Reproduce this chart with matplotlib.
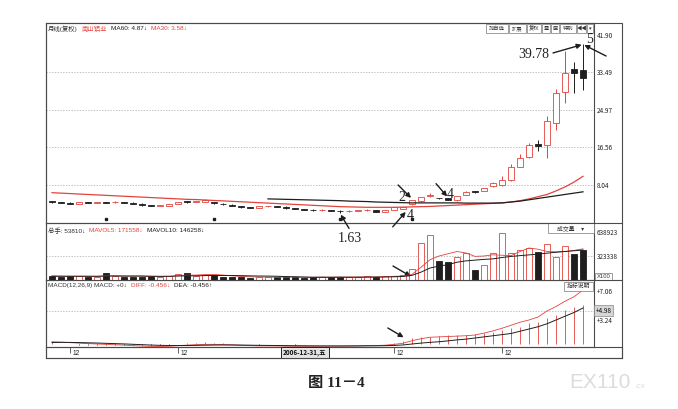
import matplotlib.pyplot as plt
from matplotlib.patches import Rectangle
from matplotlib.lines import Line2D
import numpy as np

plt.rcParams['font.family'] = ['Noto Sans CJK SC', 'DejaVu Sans']

W, H = 678, 409
RED = '#e2433c'
BLK = '#1e1e1e'
FRAME = '#4a4a4a'
GRID = '#a8a8a8'
SERIF = ['Liberation Serif', 'DejaVu Serif']
SANS = ['Liberation Sans', 'Noto Sans CJK SC', 'DejaVu Sans']

# monthly bars, 2002-10 .. 2007-09
opens = [4.4, 4.1, 4.0, 3.8, 4.1, 4.0, 4.1, 4.1, 4.2, 4.0,
         3.8, 3.5, 3.3, 3.4, 3.8, 4.2, 4.2, 4.3, 4.2, 3.8,
         3.6, 3.2, 3.0, 2.9, 3.2, 3.2, 3.1, 2.8, 2.6, 2.5,
         2.3, 2.3, 2.1, 2.1, 2.2, 2.3, 2.3, 2.0, 2.4, 2.7,
         3.75, 4.4, 5.5, 5.0, 5.0, 4.6, 5.8, 6.5, 6.7, 7.7,
         8.0, 9.2, 12.2, 14.4, 17.2, 17.1, 22.1, 29.1, 34.3, 33.9]
highs = [4.5, 4.2, 4.1, 4.3, 4.2, 4.3, 4.2, 4.4, 4.3, 4.1,
         3.9, 3.6, 3.5, 3.8, 4.3, 4.4, 4.4, 4.8, 4.3, 3.9,
         3.7, 3.3, 3.1, 3.3, 3.4, 3.3, 3.2, 2.9, 2.7, 2.6,
         2.6, 2.4, 2.4, 2.3, 2.4, 2.6, 2.4, 2.4, 3.1, 3.1,
         4.7, 5.4, 6.2, 5.2, 5.1, 5.6, 6.6, 6.7, 7.4, 8.8,
         10.0, 12.8, 15.0, 17.6, 18.3, 23.6, 29.7, 38.2, 35.9, 39.78]
lows = [4.0, 3.9, 3.7, 3.7, 3.9, 3.9, 3.9, 4.0, 3.9, 3.7,
        3.4, 3.2, 3.2, 3.3, 3.7, 4.0, 4.1, 4.2, 3.8, 3.6,
        3.2, 2.9, 2.8, 2.8, 3.1, 3.0, 2.7, 2.6, 2.4, 2.2,
        2.2, 2.1, 1.63, 2.0, 2.1, 2.2, 1.9, 1.9, 2.3, 2.6,
        3.6, 4.3, 5.4, 4.9, 4.6, 4.5, 5.7, 6.3, 6.6, 7.6,
        7.9, 9.0, 12.0, 14.2, 15.6, 14.1, 20.5, 26.5, 28.8, 29.5]
closes = [4.1, 4.05, 3.8, 4.2, 4.05, 4.1, 4.05, 4.3, 4.0, 3.8,
          3.5, 3.3, 3.35, 3.7, 4.2, 4.2, 4.3, 4.6, 3.9, 3.7,
          3.3, 3.0, 2.9, 3.2, 3.3, 3.1, 2.8, 2.7, 2.5, 2.3,
          2.45, 2.2, 2.1, 2.2, 2.3, 2.5, 2.0, 2.3, 3.0, 3.0,
          4.6, 5.3, 5.8, 5.0, 4.7, 5.5, 6.5, 6.5, 7.3, 8.6,
          9.2, 12.2, 14.1, 17.1, 16.9, 22.4, 28.9, 33.3, 33.3, 32.2]

ma30 = [6.3, 6.2, 6.1, 6.0, 5.9, 5.8, 5.7, 5.6, 5.5, 5.4,
        5.3, 5.2, 5.1, 5.0, 4.9, 4.8, 4.75, 4.65, 4.55, 4.45,
        4.35, 4.25, 4.15, 4.05, 3.95, 3.85, 3.75, 3.65, 3.55, 3.45,
        3.35, 3.25, 3.15, 3.1, 3.05, 3.0, 3.0, 3.0, 3.0, 3.05,
        3.1, 3.15, 3.2, 3.3, 3.4, 3.5, 3.6, 3.7, 3.8, 3.9,
        4.0, 4.2, 4.5, 4.9, 5.4, 5.9, 6.7, 7.6, 8.7, 10.0]
ma60 = [np.nan] * 24 + [4.9, 4.85, 4.8, 4.75, 4.7, 4.65,
                        4.6, 4.55, 4.5, 4.4, 4.35, 4.3, 4.2, 4.15, 4.1, 4.05,
                        4.0, 4.0, 4.0, 4.0, 4.0, 4.0, 3.95, 3.95, 3.95, 3.95,
                        4.0, 4.2, 4.4, 4.7, 5.0, 5.3, 5.6, 5.9, 6.2, 6.5]

volumes = [60000, 45000, 50000, 55000, 40000, 45000, 90000, 50000, 45000, 40000,
           45000, 50000, 40000, 55000, 85000, 90000, 60000, 70000, 65000, 45000,
           40000, 35000, 30000, 45000, 40000, 35000, 40000, 35000, 30000, 40000,
           45000, 35000, 40000, 35000, 45000, 50000, 40000, 50000, 60000, 70000,
           147000, 497000, 600000, 257000, 244000, 303000, 360000, 133000, 200000, 356000,
           623000, 356000, 400000, 423000, 377000, 480000, 311000, 453000, 347000, 400000]
vol_ma5 = [55000, 52000, 50000, 50000, 50000, 48000, 56000, 56000, 54000, 54000,
           54000, 46000, 44000, 46000, 55000, 64000, 66000, 72000, 74000, 66000,
           56000, 48000, 43000, 39000, 38000, 37000, 39000, 39000, 36000, 36000,
           38000, 37000, 38000, 39000, 40000, 41000, 41000, 44000, 49000, 54000,
           75000, 170000, 270000, 320000, 350000, 380000, 360000, 315000, 320000, 336000,
           330000, 325000, 380000, 427000, 410000, 380000, 375000, 380000, 395000, 415000]
vol_ma10 = [50000, 50000, 50000, 50000, 50000, 50000, 52000, 53000, 52000, 52000,
            52000, 51000, 49000, 50000, 54000, 55000, 56000, 59000, 60000, 60000,
            60000, 58000, 55000, 53000, 52000, 50000, 46000, 43000, 40000, 37000,
            37000, 37000, 38000, 37000, 37000, 38000, 39000, 40000, 43000, 47000,
            62000, 105000, 160000, 185000, 205000, 237000, 255000, 265000, 275000, 282000,
            300000, 314000, 325000, 335000, 345000, 358000, 370000, 380000, 390000, 400000]

diff = [0.30, 0.25, 0.18, 0.12, 0.05, 0.0, -0.05, -0.1, -0.15, -0.22,
        -0.28, -0.32, -0.33, -0.3, -0.22, -0.15, -0.1, -0.05, -0.05, -0.08,
        -0.12, -0.18, -0.22, -0.25, -0.25, -0.26, -0.28, -0.3, -0.3, -0.3,
        -0.28, -0.28, -0.28, -0.26, -0.24, -0.2, -0.2, -0.16, -0.05, 0.1,
        0.44, 0.7, 0.9, 0.95, 1.0, 1.05, 1.1, 1.2, 1.45, 1.75,
        2.1, 2.5, 2.9, 3.2, 3.6, 4.4, 5.0, 5.7, 6.3, 7.2]
dea = [0.20, 0.22, 0.21, 0.19, 0.16, 0.13, 0.09, 0.05, 0.01, -0.04,
       -0.09, -0.14, -0.18, -0.2, -0.21, -0.2, -0.18, -0.16, -0.14, -0.13,
       -0.13, -0.14, -0.16, -0.18, -0.19, -0.2, -0.22, -0.23, -0.24, -0.25,
       -0.26, -0.26, -0.26, -0.26, -0.26, -0.25, -0.24, -0.22, -0.19, -0.13,
       0.0, 0.12, 0.22, 0.3, 0.42, 0.55, 0.65, 0.8, 0.95, 1.1,
       1.25, 1.4, 1.7, 2.0, 2.3, 2.7, 3.2, 3.7, 4.2, 4.8]
macd_bar = [0.2, 0.06, -0.05, -0.07, -0.1, -0.12, -0.13, -0.14, -0.15, -0.17,
            -0.18, -0.17, -0.14, -0.1, -0.02, 0.08, 0.14, 0.2, 0.18, 0.1,
            0.02, -0.04, -0.06, -0.07, -0.06, -0.06, -0.06, -0.07, -0.06, -0.05,
            -0.02, -0.02, -0.02, 0.0, 0.02, 0.05, 0.04, 0.06, 0.14, 0.4,
            0.76, 0.89, 0.98, 1.07, 1.16, 1.2, 1.2, 1.29, 1.42, 1.64,
            1.87, 2.09, 2.31, 2.76, 2.98, 3.42, 3.87, 4.53, 4.98, 5.2]

price_ticks = [8.04, 16.56, 24.97, 33.49, 41.90]
vol_ticks = [323338, 638923]
macd_ticks = [7.06, 3.24]
dec_idx = [2, 14, 26, 38, 50]       # December bars
dec_labels = [2, 14, 38, 50]        # the one at 26 sits under the cursor date box
info_idx = [6, 18, 32, 40]          # small event marks under the bars

fig = plt.figure(figsize=(6.78, 4.09), dpi=100)


def box(x0, y0, x1, y1):
    return [x0 / W, 1 - y1 / H, (x1 - x0) / W, (y1 - y0) / H]


def fline(x0, y0, x1, y1, **kw):
    fig.add_artist(Line2D([x0 / W, x1 / W], [1 - y0 / H, 1 - y1 / H],
                          transform=fig.transFigure, color=FRAME, lw=0.8, **kw))


ax_main = fig.add_axes(box(46, 23, 594, 223))
ax_vol = fig.add_axes(box(46, 223, 594, 280), sharex=ax_main)
ax_macd = fig.add_axes(box(46, 280, 594, 347), sharex=ax_main)
ax_date = fig.add_axes(box(46, 347, 622, 358))

for ax in (ax_main, ax_vol, ax_macd, ax_date):
    ax.set_facecolor('none')
    for sp in ax.spines.values():
        sp.set_color(FRAME)
        sp.set_linewidth(0.8)
    ax.tick_params(axis='x', bottom=False, labelbottom=False)
for ax in (ax_main, ax_vol, ax_macd):
    ax.yaxis.tick_right()
    ax.tick_params(axis='y', length=0, pad=2, labelsize=4.6, labelcolor='#222')
ax_main.set_zorder(3)

x = np.arange(len(closes))
o = np.array(opens)
c = np.array(closes)
rising = c > o
cols = [RED if r else BLK for r in rising]
faces = ['white' if r else BLK for r in rising]

# price panel
ax_main.set_xlim(-0.667, 60.22)
ax_main.set_ylim(-0.54, 44.6)
for p in price_ticks[:-1]:
    ax_main.axhline(p, color=GRID, lw=0.5, ls=(0, (2, 2)), zorder=0)
ax_main.vlines(x, lows, highs, colors=cols, lw=0.7, zorder=2)
ax_main.bar(x, np.maximum(np.abs(c - o), 0.12), bottom=np.minimum(o, c), width=0.6,
            color=faces, edgecolor=cols, lw=0.6, zorder=3)
ax_main.plot(x, ma30, color=RED, lw=0.9, zorder=4)
ax_main.plot(x, ma60, color=BLK, lw=0.9, zorder=4)
ax_main.plot(info_idx, [0.3] * len(info_idx), ls='none', marker='s', ms=1.8, color=BLK)
ax_main.set_yticks(price_ticks)
ax_main.set_yticklabels([f'{p:.2f}' for p in price_ticks])

# volume panel
ax_vol.set_ylim(0, 760000)
ax_vol.axhline(vol_ticks[0], color=GRID, lw=0.5, ls=(0, (2, 2)), zorder=0)
ax_vol.bar(x, volumes, width=0.6, color=faces, edgecolor=cols, lw=0.6, zorder=3)
ax_vol.plot(x, vol_ma5, color=RED, lw=0.6, zorder=4)
ax_vol.plot(x, vol_ma10, color=BLK, lw=0.7, zorder=4)
ax_vol.set_yticks(vol_ticks)
ax_vol.set_yticklabels([str(v) for v in vol_ticks])

# MACD panel
ax_macd.set_ylim(-0.4, 8.53)
ax_macd.axhline(4.4, color=GRID, lw=0.5, ls=(0, (2, 2)), zorder=0)
bars = np.array(macd_bar)
ax_macd.vlines(x, 0, bars, colors=[RED if b > 0 else BLK for b in bars], lw=0.6, zorder=2)
ax_macd.plot(x, diff, color=RED, lw=0.6, zorder=3)
ax_macd.plot(x, dea, color=BLK, lw=0.7, zorder=3)
ax_macd.set_yticks(macd_ticks)
ax_macd.set_yticklabels([f'+{v:.2f}' for v in macd_ticks])
ax_macd.text(1.003, 4.45, '+4.98', transform=ax_macd.get_yaxis_transform(), fontsize=4.6,
             va='center', ha='left', color='#111',
             bbox=dict(boxstyle='square,pad=0.2', fc='#d6d6d6', ec='#888', lw=0.5))

# date strip
ax_date.set_xlim(-0.667, 63.33)
ax_date.set_ylim(0, 1)
ax_date.set_yticks([])
ax_date.vlines(dec_idx, 0.45, 1, colors=FRAME, lw=0.6)
for d in dec_labels:
    ax_date.text(d + 0.3, 0.42, '12', fontsize=4.8, va='center', ha='left', color='#222', family=SANS)
ax_date.text(28.1, 0.5, '2006-12-31,五', fontsize=4.6, weight='bold', va='center', ha='center',
             color='#111', zorder=5,
             bbox=dict(boxstyle='square,pad=0.3', fc='#e4e4e4', ec='#222', lw=0.7))

# outer frame and separators in the scale column
fig.add_artist(Rectangle((46 / W, 1 - 358 / H), 576 / W, 335 / H, transform=fig.transFigure,
                         fill=False, ec=FRAME, lw=0.8))
fline(594, 223, 622, 223)
fline(594, 280, 622, 280)

# header lines
renderer = fig.canvas.get_renderer()


def header(x0, y0, pieces):
    for s, col in pieces:
        t = fig.text(x0 / W, 1 - y0 / H, s, color=col, fontsize=4.6, va='center', ha='left', family=SANS)
        x0 += t.get_window_extent(renderer=renderer).width + 4


header(48, 28.5, [('月线(复权)', '#333'), ('南山铝业', RED), ('MA60: 4.87↓', BLK), ('MA30: 3.58↓', RED)])
header(48, 231, [('总手: 53810↓', '#333'), ('MAVOL5: 171558↓', RED), ('MAVOL10: 146258↓', BLK)])
header(48, 285.5, [('MACD(12,26,9) MACD: +0↓', '#333'), ('DIFF: -0.456↓', RED), ('DEA: -0.456↑', BLK)])

# toolbar and little boxes
buttons = [('加自选', 486, 508), ('扩展', 509, 526), ('复权', 527, 541), ('叠', 542, 550),
           ('画', 551, 559), ('特别', 560, 576), ('◀◀', 577, 586), ('▾', 587, 593)]
for lab, b0, b1 in buttons:
    fig.add_artist(Rectangle((b0 / W, 1 - 33 / H), (b1 - b0) / W, 9 / H, transform=fig.transFigure,
                             fc='white', ec='#777', lw=0.5))
    fig.text((b0 + b1) / 2 / W, 1 - 28.5 / H, lab, fontsize=3.8, ha='center', va='center',
             color='#333', family=SANS)
for lab, b0, y0, b1, y1 in [('成交量    ▾', 548, 223, 594, 233), ('指标说明', 564, 282, 593, 291)]:
    fig.add_artist(Rectangle((b0 / W, 1 - y1 / H), (b1 - b0) / W, (y1 - y0) / H,
                             transform=fig.transFigure, fc='white', ec='#777', lw=0.5))
    fig.text((b0 + b1) / 2 / W, 1 - (y0 + y1) / 2 / H, lab, fontsize=4.2, ha='center', va='center',
             color='#333', family=SANS)
fig.add_artist(Rectangle((595 / W, 1 - 280 / H), 17 / W, 7 / H, transform=fig.transFigure,
                         fc='white', ec='#777', lw=0.5))
fig.text(603.5 / W, 1 - 276.5 / H, 'X100', fontsize=4.2, ha='center', va='center', color='#333',
         family=SANS)

# hand-drawn arrows and numbers
arrow = dict(arrowstyle='-|>', color=BLK, lw=1.0, mutation_scale=7, shrinkA=0, shrinkB=1)
num = dict(family=SERIF, fontsize=10, color='#222', annotation_clip=False)
top_i = int(np.argmax(highs))

ax_main.annotate('', xy=(top_i, highs[top_i]), xytext=(-21.6, -6.2), textcoords='offset points',
                 arrowprops=arrow, annotation_clip=False)
ax_main.annotate('39.78', xy=(top_i, highs[top_i]), xytext=(-24.5, -7.6), textcoords='offset points',
                 ha='right', va='center', **num)
ax_main.annotate('', xy=(top_i, highs[top_i]), xytext=(16.6, -8.4), textcoords='offset points',
                 arrowprops=arrow, annotation_clip=False)
ax_main.annotate('5', xy=(top_i, highs[top_i]), xytext=(5.0, 3.6), textcoords='offset points',
                 ha='center', va='center', **num)

ax_main.annotate('', xy=(40, 4.9), xytext=(-10, 10), textcoords='offset points', arrowprops=arrow)
ax_main.annotate('2', xy=(40, 4.9), xytext=(-7.2, 0.7), textcoords='offset points',
                 ha='center', va='center', **num)
ax_main.annotate('', xy=(44, 5.2), xytext=(-8.6, 10), textcoords='offset points', arrowprops=arrow)
ax_main.annotate('4', xy=(44, 5.2), xytext=(1.8, 2.5), textcoords='offset points',
                 ha='center', va='center', **num)
ax_main.annotate('', xy=(39.4, 2.2), xytext=(-10, -11.5), textcoords='offset points',
                 arrowprops=arrow, annotation_clip=False)
ax_main.annotate('4', xy=(39.4, 2.2), xytext=(2.9, -3.6), textcoords='offset points',
                 ha='center', va='center', **num)
ax_main.annotate('', xy=(32, lows[32]), xytext=(6.5, -10.8), textcoords='offset points',
                 arrowprops=arrow, annotation_clip=False)
ax_main.annotate('1.63', xy=(32, lows[32]), xytext=(7.2, -18), textcoords='offset points',
                 ha='center', va='center', **num)

ax_vol.annotate('', xy=(40, 40000), xytext=(-13.7, 7.9), textcoords='offset points', arrowprops=arrow)
ax_macd.annotate('', xy=(39.2, 0.8), xytext=(-12.2, 7.2), textcoords='offset points', arrowprops=arrow)

# caption and watermark
fig.text(336 / W, 1 - 384 / H, '图 11－4', fontsize=11, weight='bold', ha='center', va='center',
         color='#222', family=SERIF + ['Noto Sans CJK SC'])
fig.text(600 / W, 1 - 383 / H, 'EX110', fontsize=15, ha='center', va='center', color='#dcdcdc',
         family=SANS)
fig.text(634 / W, 1 - 387 / H, '.cx', fontsize=6, ha='left', va='center', color='#dcdcdc', family=SANS)

fig.savefig('out.png', dpi=100, facecolor='white')
